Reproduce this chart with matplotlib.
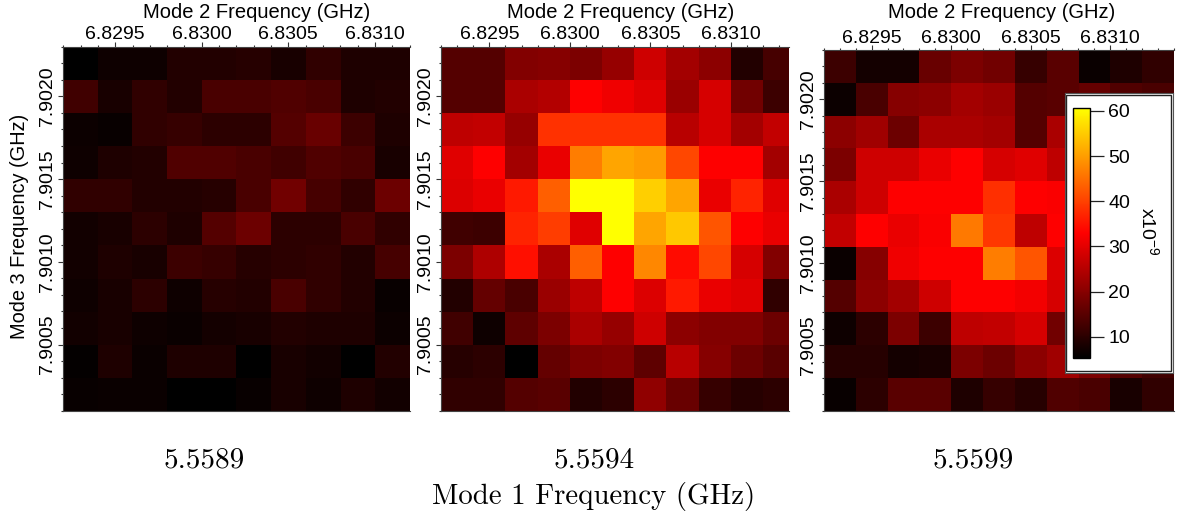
# -*- coding: utf-8 -*-
import numpy as np
import matplotlib
matplotlib.use('Agg')
import matplotlib.pyplot as plt
from matplotlib.colors import LinearSegmentedColormap
from matplotlib.ticker import FixedLocator, FormatStrFormatter, MultipleLocator
from matplotlib.patches import Rectangle

plt.rcParams['font.family'] = ['Liberation Sans', 'DejaVu Sans']
plt.rcParams['mathtext.default'] = 'regular'

# Mode 2 / Mode 3 tick labels and the Mode 1 value of each panel
x_ticks = [6.8295, 6.8300, 6.8305, 6.8310]
y_ticks = [7.9005, 7.9010, 7.9015, 7.9020]
mode1_labels = ['5.5589', '5.5594', '5.5599']
cbar_ticks = [10, 20, 30, 40, 50, 60]

# values in units of 1e-9, top row first
panel_a = [
    [5.3, 6.9, 6.9, 9.1, 9.1, 9.6, 8.0, 10.7, 8.6, 8.6],
    [12.4, 8.0, 10.7, 9.1, 13.4, 13.4, 14.0, 13.4, 8.6, 9.1],
    [6.6, 6.2, 10.7, 11.3, 10.2, 10.2, 14.5, 16.7, 11.8, 8.6],
    [6.9, 8.6, 9.1, 14.0, 14.0, 13.4, 12.4, 14.0, 13.4, 8.0],
    [10.7, 10.7, 9.1, 9.1, 9.6, 13.4, 17.8, 12.9, 10.7, 17.2],
    [7.3, 8.0, 10.2, 8.6, 14.5, 17.2, 10.2, 10.2, 13.4, 10.7],
    [7.3, 8.6, 8.0, 11.8, 11.3, 9.6, 10.2, 10.7, 9.1, 12.9],
    [6.9, 8.0, 10.2, 6.9, 9.6, 9.1, 13.4, 10.7, 9.1, 6.2],
    [7.3, 8.0, 6.9, 6.4, 7.5, 8.0, 9.1, 8.6, 8.6, 6.6],
    [5.8, 8.6, 6.4, 8.6, 8.6, 5.5, 8.0, 7.3, 5.3, 9.1],
    [6.2, 6.4, 6.4, 5.3, 5.3, 6.2, 8.0, 6.9, 8.6, 7.3],
]
panel_b = [
    [14.5, 14.5, 19.4, 20.0, 18.9, 21.6, 27.6, 23.2, 20.5, 9.1, 12.9],
    [14.5, 14.5, 23.8, 24.8, 33.0, 31.4, 29.7, 22.1, 28.6, 17.8, 11.8],
    [25.9, 26.5, 21.6, 38.4, 38.4, 38.4, 38.4, 25.4, 28.6, 23.2, 26.5],
    [29.7, 33.0, 23.2, 30.8, 46.6, 50.9, 49.8, 40.6, 33.0, 33.0, 23.2],
    [29.2, 30.8, 35.7, 43.3, 60.7, 60.7, 55.3, 50.9, 30.8, 36.8, 29.7],
    [12.4, 11.8, 36.8, 39.5, 29.7, 60.7, 50.9, 54.7, 42.2, 33.0, 30.8],
    [18.9, 24.3, 34.6, 23.8, 43.3, 33.0, 47.7, 34.1, 40.6, 28.6, 19.4],
    [9.1, 16.2, 13.4, 22.1, 25.9, 33.0, 29.2, 35.7, 30.8, 29.7, 10.7],
    [12.4, 6.9, 15.6, 18.9, 23.8, 21.6, 27.6, 20.5, 19.4, 19.4, 17.2],
    [9.6, 10.2, 5.3, 16.2, 18.9, 19.4, 15.6, 25.4, 20.0, 17.2, 15.1],
    [10.7, 10.7, 14.5, 15.1, 9.1, 10.2, 21.0, 16.7, 11.3, 9.6, 10.2],
]
panel_c = [
    [11.8, 7.5, 7.5, 16.7, 18.9, 17.8, 11.3, 15.1, 6.4, 8.6, 10.7],
    [6.6, 13.4, 20.0, 20.5, 23.2, 22.1, 14.5, 15.1, 16.2, 14.0, 13.4],
    [20.5, 22.7, 17.2, 23.8, 23.8, 23.2, 14.5, 23.8, 23.8, 20.0, 18.9],
    [18.9, 27.6, 27.6, 30.8, 33.0, 28.6, 29.7, 25.9, 27.6, 25.4, 21.6],
    [23.8, 27.6, 33.0, 33.0, 33.0, 38.0, 33.0, 32.5, 30.8, 29.7, 23.2],
    [26.5, 33.0, 30.8, 32.5, 46.0, 39.0, 25.9, 33.0, 33.0, 29.7, 21.6],
    [6.4, 20.0, 31.4, 33.0, 33.0, 46.6, 42.2, 29.2, 28.6, 24.8, 20.0],
    [14.5, 20.5, 23.2, 27.6, 33.0, 33.0, 31.9, 28.6, 24.3, 20.5, 16.2],
    [6.9, 10.2, 18.9, 11.8, 25.9, 26.5, 28.6, 17.8, 17.2, 15.1, 12.9],
    [9.6, 9.6, 7.5, 8.0, 18.9, 17.2, 20.5, 22.7, 18.9, 14.5, 12.4],
    [6.2, 10.2, 15.1, 15.1, 8.6, 11.3, 9.6, 14.0, 13.4, 8.0, 10.7],
]

W, H = 1179, 516
cmap = LinearSegmentedColormap.from_list('blackredyellow', ['#000000', '#ff0000', '#ffff00'])
VMIN, VMAX = 5.3, 60.7


def px_axes(fig, left, top, right, bottom, **kw):
    # axes placed by pixel edges, y counted from the top of the image
    return fig.add_axes([left / W, 1 - bottom / H, (right - left) / W, (bottom - top) / H], **kw)


fig = plt.figure(figsize=(W / 100, H / 100), dpi=100)

# data, axes box in pixels, right edge of x in GHz, centre of the x title in pixels
panels = [
    (panel_a, (63.3, 46.7, 409.5, 410.7), 6.8312, 256.5),
    (panel_b, (441, 46.7, 789, 410.7), 6.83136, 621),
    (panel_c, (824, 50, 1173.5, 410.7), 6.8314, 1001.7),
]

for data, box, x_right, title_x in panels:
    arr = np.array(data)
    ax = px_axes(fig, *box)
    x0 = 6.8292
    x1 = x0 + arr.shape[1] * 0.0002
    im = ax.imshow(arr, extent=(x0, x1, 7.9001, 7.9023), aspect='auto', cmap=cmap,
                   vmin=VMIN, vmax=VMAX, interpolation='nearest')
    ax.set_xlim(x0, x_right)
    ax.set_ylim(7.9001, 7.9023)
    ax.xaxis.set_major_locator(FixedLocator(x_ticks))
    ax.yaxis.set_major_locator(FixedLocator(y_ticks))
    ax.xaxis.set_minor_locator(MultipleLocator(0.0001))
    ax.yaxis.set_minor_locator(MultipleLocator(0.0001))
    ax.xaxis.set_major_formatter(FormatStrFormatter('%.4f'))
    ax.yaxis.set_major_formatter(FormatStrFormatter('%.4f'))
    ax.xaxis.tick_top()
    ax.tick_params(axis='both', which='major', length=3.5, width=0.8, color='#333333',
                   labelsize=14)
    ax.tick_params(axis='x', which='major', pad=-1)
    ax.tick_params(axis='both', which='minor', length=1.8, width=0.8, color='#333333')
    ax.tick_params(axis='y', labelrotation=90, pad=1.5)
    for lab in ax.get_yticklabels():
        lab.set_va('center')
    ax.spines['right'].set_visible(False)
    for name in ['top', 'left', 'bottom']:
        ax.spines[name].set_color('#444444')
    fig.text(title_x / W, 1 - 12.5 / H, 'Mode 2 Frequency (GHz)', fontsize=14.5,
             ha='center', va='center')

for label, xc in zip(mode1_labels, [204, 594, 973]):
    fig.text(xc / W, 1 - 460.5 / H, label, family='cmr10', fontsize=21, ha='center', va='center')
fig.text(593.5 / W, 1 - 496.5 / H, 'Mode 1 Frequency (GHz)', family='cmr10', fontsize=20.8,
         ha='center', va='center')
fig.text(20 / W, 1 - 226 / H, 'Mode 3 Frequency (GHz)', fontsize=14.4, rotation=90,
         ha='center', va='center')

# colour bar sits in a white box on top of the third panel
box_ax = px_axes(fig, 1064.5, 93, 1173, 373, facecolor='white')
box_ax.set_xticks([])
box_ax.set_yticks([])
for sp in box_ax.spines.values():
    sp.set_color('#555555')
    sp.set_linewidth(0.8)
box_ax.add_patch(Rectangle((0.015, 0.006), 0.97, 0.988, transform=box_ax.transAxes,
                           fill=False, ec='#222222', lw=1.0))

cax = px_axes(fig, 1072.7, 107.7, 1090, 358)
cbar = fig.colorbar(im, cax=cax, ticks=cbar_ticks)
cbar.outline.set_edgecolor('black')
cbar.outline.set_linewidth(1.0)
cax.tick_params(length=10, width=0.9, color='#222222', labelsize=14, pad=3)
fig.text(1149 / W, 1 - 231 / H, r'x10$^{-9}$', fontsize=14, rotation=-90, ha='center', va='center')

fig.savefig('out.png', dpi=100)
